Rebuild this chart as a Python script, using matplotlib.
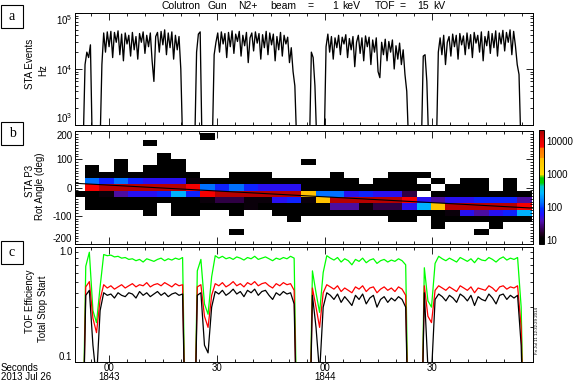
import numpy as np
import matplotlib
matplotlib.use("Agg")
import matplotlib.pyplot as plt
from matplotlib.colors import LinearSegmentedColormap, LogNorm
from matplotlib.patches import Rectangle
from matplotlib.ticker import FixedLocator, MultipleLocator, LogLocator, NullFormatter

plt.rcParams.update({
    "font.family": ["Liberation Sans", "DejaVu Sans"],
    "font.size": 7,
    "axes.linewidth": 0.7,
    "axes.unicode_minus": False,
    "mathtext.default": "regular",
})

# ---------------- data (seconds after 18:43:00) ----------------
# panel a: STA event rate, kHz, 0.5 s samples per segment
A_T0 = [-7.3, -2.6, 23.8, 28.7, 55.8, 59.9, 87.0, 91.2]
a_seg1 = [0.5, 12, 20, 16, 27, 0.5]
a_seg2 = [0.5, 12, 44, 20, 46, 25, 47, 16, 45, 30, 48, 18, 42, 14, 44, 28, 40, 17,
          45, 22, 38, 15, 43, 30, 46, 19, 40, 25, 44, 14, 6, 38, 45, 20, 47, 27,
          50, 18, 44, 24, 46, 15, 40, 22, 38, 10, 0.5]
a_seg3 = [0.5, 20, 42, 46, 0.5]
a_seg4 = [0.5, 18, 30, 44, 20, 46, 28, 43, 16, 45, 25, 48, 19, 42, 31, 47, 17, 40,
          26, 45, 13, 36, 44, 21, 46, 29, 43, 15, 41, 24, 47, 18, 44, 27, 42, 14,
          38, 22, 45, 17, 40, 28, 37, 13, 24, 9, 5, 0.5]
a_seg5 = [0.5, 20, 16, 5, 0.5]
a_seg6 = [0.5, 25, 42, 20, 38, 15, 36, 24, 40, 18, 37, 28, 41, 16, 35, 22, 38, 11,
          30, 40, 19, 36, 14, 39, 25, 37, 12, 33, 20, 36, 9, 7, 30, 18, 34, 14,
          31, 20, 33, 10, 26, 15, 29, 12, 22, 8, 4, 0.5]
a_seg7 = [0.5, 17, 18, 6, 0.5]
a_seg8 = [0.5, 20, 36, 18, 40, 12, 30, 38, 17, 42, 25, 40, 15, 43, 27, 39, 18, 44,
          23, 41, 16, 45, 29, 40, 20, 46, 14, 38, 26, 47, 19, 43, 24, 48, 17, 44,
          28, 49, 21, 45, 30, 50, 18, 47, 26, 12, 8, 0.5]
A_SEGS = [a_seg1, a_seg2, a_seg3, a_seg4, a_seg5, a_seg6, a_seg7, a_seg8]

# panel b: counts per (rotation angle, time) bin, rows from +180 down to -157.5
T_EDGE0, T_BIN = -10.85, 4.02
ANG_CENTERS = [180, 157.5, 135, 112.5, 90, 67.5, 45, 22.5, 0,
               -22.5, -45, -67.5, -90, -112.5, -135, -157.5]
counts = [
    [0] * 9 + [9] + [0] * 22,
    [0] * 5 + [9] + [0] * 26,
    [0] * 32,
    [0] * 6 + [9] + [0] * 25,
    [0, 0, 0, 9, 0, 0, 9, 9] + [0] * 8 + [9] + [0] * 15,
    [0, 9, 0, 9, 0, 9, 9, 9] + [0] * 24,
    [0] + [9] * 8 + [0, 0, 9, 9, 9, 0, 0, 0, 0, 9, 0, 0, 0, 9, 9, 9] + [0] * 7,
    [0, 135, 75, 135, 75, 56, 56, 56, 13] + [9] * 11
    + [0, 9, 9, 9, 0, 9, 0, 9, 9, 0, 9, 0],
    [0, 7500] + [16500] * 6 + [7500, 135, 75, 135, 75, 56, 56, 56] + [9] * 9
    + [0, 9, 9, 9, 0, 9, 0],
    [9, 9, 13, 35, 56, 56, 75, 250, 75, 7500] + [16500] * 6
    + [2700, 135, 135, 56, 75, 56, 56, 20, 0] + [9] * 7,
    [0] + [9] * 8 + [13, 20, 20, 13, 13, 56, 75, 13, 2700] + [16500] * 5
    + [7500, 56, 35, 56, 56, 75, 75, 75, 35],
    [0] + [9] * 5 + [0] + [9] * 5 + [13] + [9] * 5
    + [35, 35, 13, 20, 20, 56, 250, 2700] + [16500] * 5 + [7500],
    [0] * 5 + [9, 0, 9, 9, 0, 0, 9, 0, 0] + [9] * 12 + [13, 56, 35, 56, 75, 250],
    [0] * 15 + [9] + [0] * 6 + [9, 9, 0] + [9] * 7,
    [0] * 25 + [9, 0, 0, 0, 9, 0, 0],
    [0] * 11 + [9] + [0] * 16 + [9] + [0] * 3,
]
FIT_T = [-9.6, 118.1]
FIT_ANG = [15, -73]

# panel c: TOF efficiencies in percent, 1 s samples per segment
C_T0 = [-7.6, 23.5, 55.6, 86.8]
green = [
    [1, 68, 90, 28, 22, 45, 86, 84, 85, 82, 83, 80, 81, 78, 79, 76, 78, 74, 79, 77,
     75, 78, 80, 76, 79, 77, 80, 78, 81, 1],
    [1, 62, 78, 32, 26, 55, 84, 80, 83, 79, 81, 78, 82, 80, 77, 81, 79, 83, 78, 80,
     82, 79, 76, 80, 78, 81, 79, 83, 80, 1],
    [1, 62, 40, 27, 60, 84, 80, 77, 81, 74, 79, 76, 70, 78, 75, 80, 73, 77, 79, 72,
     76, 78, 74, 77, 75, 79, 76, 70, 1],
    [1, 66, 34, 30, 72, 83, 79, 76, 80, 77, 74, 81, 78, 75, 79, 73, 80, 77, 76, 81,
     78, 74, 79, 82, 77, 80, 78, 81, 30, 1],
]
red = [
    [1, 45, 50, 24, 18, 35, 47, 44, 46, 43, 45, 47, 44, 46, 48, 45, 47, 46, 49, 45,
     47, 48, 46, 49, 47, 45, 48, 46, 47, 1],
    [1, 45, 47, 25, 20, 38, 48, 46, 49, 45, 47, 50, 46, 48, 45, 49, 47, 50, 46, 48,
     49, 46, 44, 48, 46, 49, 47, 48, 42, 1],
    [1, 44, 30, 20, 40, 47, 45, 43, 46, 41, 44, 42, 40, 45, 43, 46, 41, 44, 45, 40,
     43, 45, 42, 44, 41, 45, 43, 38, 1],
    [1, 46, 25, 22, 42, 46, 44, 42, 45, 43, 41, 46, 44, 42, 45, 40, 44, 43, 42, 46,
     44, 41, 45, 46, 43, 45, 44, 46, 20, 1],
]
black = [
    [1, 38, 42, 14, 7, 28, 40, 38, 39, 36, 40, 38, 37, 40, 39, 36, 41, 38, 40, 37,
     39, 41, 38, 40, 37, 39, 40, 38, 39, 1],
    [1, 38, 40, 14, 12, 30, 41, 39, 42, 38, 40, 43, 39, 41, 37, 42, 40, 43, 38, 41,
     42, 38, 35, 40, 38, 41, 39, 40, 32, 1],
    [1, 38, 20, 8, 30, 40, 38, 35, 39, 33, 37, 34, 31, 38, 35, 39, 32, 36, 38, 30,
     35, 37, 33, 36, 34, 37, 35, 30, 1],
    [1, 40, 9, 8, 35, 39, 37, 34, 38, 36, 33, 39, 37, 34, 38, 31, 37, 35, 34, 39,
     36, 32, 38, 39, 35, 38, 36, 38, 14, 1],
]

X_MAJOR = [0, 30, 60, 90]
X_LABELS = ["00", "30", "00", "30"]
X_HOURS = [(0, "1843"), (60, "1844")]
CB_TICKS = [10, 100, 1000, 10000]

# ---------------- figure ----------------
W, H = 574, 381
fig = plt.figure(figsize=(W / 100, H / 100), dpi=100)


def px_axes(x0, y0, x1, y1):
    return fig.add_axes([x0 / W, 1 - y1 / H, (x1 - x0) / W, (y1 - y0) / H])


def pull_in_end_labels(ax):
    # IDL keeps the end labels inside the axis span
    ticks = ax.yaxis.get_major_ticks()
    ticks[0].label1.set_va("bottom")
    ticks[-1].label1.set_va("top")


ax_a = px_axes(75, 13, 533, 125)
ax_b = px_axes(75, 131, 533, 244)
ax_c = px_axes(75, 247, 533, 362)
cax = px_axes(539, 130, 544, 244)

XLIM = (-9.6, 118.1)
for ax in (ax_a, ax_b, ax_c):
    ax.set_xlim(*XLIM)
    ax.xaxis.set_major_locator(FixedLocator(X_MAJOR))
    ax.xaxis.set_minor_locator(MultipleLocator(5))
    ax.tick_params(which="both", direction="in", top=True, right=True,
                   width=0.6, labelsize=7, pad=2)
    ax.tick_params(which="major", length=5)
    ax.tick_params(which="minor", length=2.5)
    ax.set_xticklabels([])

# panel a
ta, ra = [], []
for t0, seg in zip(A_T0, A_SEGS):
    ta.append(t0 + 0.5 * np.arange(len(seg)))
    ra.append(np.array(seg, float) * 1e3)
ax_a.plot(np.concatenate(ta), np.concatenate(ra), color="black", lw=0.95)
ax_a.set_yscale("log")
ax_a.set_ylim(1e3, 1e5)
ax_a.yaxis.set_major_locator(FixedLocator([1e3, 1e4, 1e5]))
ax_a.yaxis.set_minor_locator(LogLocator(base=10, subs=np.arange(2, 10)))
ax_a.yaxis.set_minor_formatter(NullFormatter())
ax_a.set_yticklabels(["$10^3$", "$10^4$", "$10^5$"])
pull_in_end_labels(ax_a)

# panel b
cmap = LinearSegmentedColormap.from_list("idl_rainbow", [
    (0.000, "#000000"), (0.050, "#000000"), (0.090, "#200020"), (0.140, "#3a0060"),
    (0.200, "#5010b0"), (0.257, "#2010ff"), (0.310, "#0030ff"), (0.360, "#0070ff"),
    (0.447, "#00b8ff"), (0.506, "#00c8c8"), (0.535, "#00d000"), (0.580, "#00d000"),
    (0.610, "#ffe000"), (0.754, "#ffc000"), (0.760, "#ff9000"), (0.842, "#ff7000"),
    (0.850, "#ff0000"), (0.930, "#d80000"), (1.000, "#a00000")])
norm = LogNorm(vmin=7.8, vmax=21000)
cnt = np.array(counts, float)[::-1]
ang_c = np.array(ANG_CENTERS[::-1])
ang_edges = np.concatenate([ang_c - 11.25, [ang_c[-1] + 11.25]])
t_edges = T_EDGE0 + T_BIN * np.arange(cnt.shape[1] + 1)
mesh = ax_b.pcolormesh(t_edges, ang_edges, np.ma.masked_less_equal(cnt, 0),
                       cmap=cmap, norm=norm, shading="flat")
ax_b.plot(FIT_T, FIT_ANG, color="black", lw=0.8)
ax_b.set_ylim(-200, 200)
ax_b.yaxis.set_major_locator(FixedLocator([-200, -100, 0, 100, 200]))
ax_b.yaxis.set_minor_locator(MultipleLocator(10))
ax_b.set_yticklabels(["-200", "-100", "0", "100", "200"])
pull_in_end_labels(ax_b)

cb = fig.colorbar(mesh, cax=cax)
cb.set_ticks(CB_TICKS)
cb.set_ticklabels([str(v) for v in CB_TICKS])
cb.ax.yaxis.set_minor_locator(FixedLocator([]))
cb.ax.tick_params(labelsize=7, length=0, pad=2)
cb.outline.set_linewidth(0.7)

# panel c
for t0, g, r, k in zip(C_T0, green, red, black):
    tc = t0 + np.arange(len(g))
    ax_c.plot(tc, np.array(g) / 100, color="#00ff00", lw=0.9)
    ax_c.plot(tc, np.array(r) / 100, color="#ff0000", lw=0.9)
    ax_c.plot(tc, np.array(k) / 100, color="black", lw=0.9)
ax_c.set_yscale("log")
ax_c.set_ylim(0.1, 1.0)
ax_c.yaxis.set_major_locator(FixedLocator([0.1, 1.0]))
ax_c.set_yticklabels(["0.1", "1.0"])
ax_c.yaxis.set_minor_locator(FixedLocator(np.arange(0.2, 1.0, 0.1)))
ax_c.yaxis.set_minor_formatter(NullFormatter())
pull_in_end_labels(ax_c)
ax_c.set_xticklabels(X_LABELS)
ax_c.tick_params(axis="x", pad=0.5)
for t, s in X_HOURS:
    ax_c.text(t, -0.128, s, transform=ax_c.get_xaxis_transform(),
              ha="center", va="center", fontsize=7)

# title, word by word as the IDL string spreads out
for s, x in (("Colutron", 162), ("Gun", 208), ("N2+", 238), ("beam", 270),
             ("=", 308), ("1", 332), ("keV", 342), ("TOF", 375), ("=", 400),
             ("15", 417), ("kV", 433)):
    fig.text(x / W, 1 - 6 / H, s, ha="left", va="center", fontsize=7.5)

ylab = [("STA Events", 30, 64), ("Hz", 43, 70),
        ("STA P3", 30, 181), ("Rot Angle (deg)", 40, 186),
        ("TOF Efficiency", 30, 301), ("Total Stop Start", 43, 309)]
for s, x, y in ylab:
    fig.text(x / W, 1 - y / H, s, rotation=90, ha="center", va="center", fontsize=7)

for s, y0 in (("a", 5), ("b", 122), ("c", 241)):
    fig.add_artist(Rectangle((1 / W, 1 - (y0 + 23) / H), 22 / W, 23 / H,
                             transform=fig.transFigure, fill=False, lw=0.8,
                             edgecolor="black"))
    fig.text(12 / W, 1 - (y0 + 11.5) / H, s, ha="center", va="center",
             fontsize=10, family=["Liberation Serif", "DejaVu Serif"])

fig.text(1 / W, 1 - 368 / H, "Seconds", ha="left", va="center", fontsize=7)
fig.text(1 / W, 1 - 377 / H, "2013 Jul 26", ha="left", va="center", fontsize=7)
fig.text(537 / W, 1 - 331 / H, "Fri Jul 11 12:32:29 2014", rotation=90,
         ha="center", va="center", fontsize=3.2)

fig.savefig("out.png", dpi=100)
